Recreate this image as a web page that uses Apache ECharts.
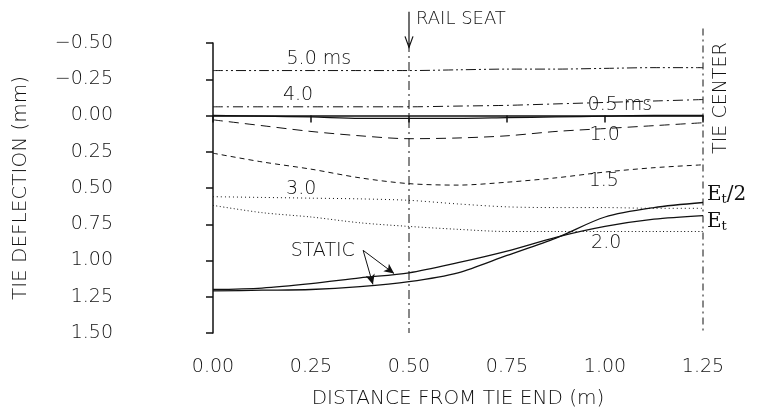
<!DOCTYPE html>
<html><head><meta charset="utf-8">
<script src="https://cdn.jsdelivr.net/npm/echarts@6/dist/echarts.min.js"></script>
<style>html,body{margin:0;padding:0;background:#fff}#c{width:762px;height:410px}</style>
</head><body><div id="c"></div>
<script>
// distance from tie end (m)
const xs = [0, 0.125, 0.25, 0.375, 0.5, 0.625, 0.75, 0.875, 1.0, 1.125, 1.25];
// tie deflection (mm), positive downward
const s50 = [-0.31, -0.31, -0.31, -0.31, -0.31, -0.315, -0.32, -0.32, -0.325, -0.33, -0.33];
const s40 = [-0.06, -0.06, -0.06, -0.06, -0.06, -0.065, -0.07, -0.08, -0.09, -0.10, -0.11];
const s05 = [0.0, 0.005, 0.01, 0.02, 0.02, 0.02, 0.015, 0.01, 0.005, 0.0, 0.0];
const s10 = [0.03, 0.07, 0.11, 0.14, 0.16, 0.155, 0.14, 0.11, 0.09, 0.07, 0.05];
const s15 = [0.26, 0.32, 0.37, 0.43, 0.47, 0.48, 0.46, 0.43, 0.39, 0.36, 0.34];
const s30 = [0.56, 0.565, 0.57, 0.575, 0.585, 0.61, 0.63, 0.635, 0.635, 0.64, 0.64];
const s20 = [0.62, 0.67, 0.70, 0.74, 0.765, 0.785, 0.80, 0.80, 0.80, 0.80, 0.80];
const staticEt = [1.20, 1.19, 1.16, 1.12, 1.085, 1.015, 0.935, 0.84, 0.765, 0.715, 0.69];
const staticEt2 = [1.21, 1.205, 1.20, 1.18, 1.146, 1.085, 0.965, 0.845, 0.70, 0.635, 0.60];
const yTickLabels = {'-0.5':'\u22120.50','-0.25':'\u22120.25','0':'0.00','0.25':'0.25','0.5':'0.50','0.75':'0.75','1':'1.00','1.25':'1.25','1.5':'1.50'};
const xTickLabels = {'0':'0.00','0.25':'0.25','0.5':'0.50','0.75':'0.75','1':'1.00','1.25':'1.25'};
const railSeatX = 0.5;
const tieCenterX = 1.25;

const FONT = 'DejaVu Sans';
const INK = '#111';
function pts(arr){ return xs.map((x,i)=>[x,arr[i]]); }
function line(name, arr, type, w){
  return {name, type:'line', data:pts(arr), symbol:'none', smooth:0.3,
    lineStyle:{color:INK, width:w||1, type:type}, silent:true, animation:false};
}
const chart = echarts.init(document.getElementById('c'));
chart.setOption({
  animation:false,
  grid:{left:213, right:59, top:43, bottom:77, containLabel:false, outerBoundsMode:'none'},
  xAxis:{type:'value', min:0, max:1.25, interval:0.25,
    axisLine:{lineStyle:{color:INK, width:1.5}},
    axisTick:{inside:false, length:7, lineStyle:{color:INK, width:1.5}},
    splitLine:{show:false},
    axisLabel:{formatter:v=>xTickLabels[String(v)]||'', color:INK, fontFamily:FONT, fontSize:19, fontWeight:200, margin:25},
    name:'DISTANCE FROM TIE END (m)', nameLocation:'middle', nameGap:56,
    nameTextStyle:{color:INK, fontFamily:FONT, fontSize:20, fontWeight:200}},
  yAxis:{type:'value', inverse:true, min:-0.5, max:1.5, interval:0.25, offset:78,
    axisLine:{show:true, lineStyle:{color:INK, width:1.5}},
    axisTick:{show:true, inside:false, length:7, lineStyle:{color:INK, width:1.5}},
    splitLine:{show:false},
    axisLabel:{formatter:v=>yTickLabels[String(v)]||'', color:INK, fontFamily:FONT, fontSize:19, fontWeight:200, margin:22},
    name:'TIE DEFLECTION (mm)', nameLocation:'middle', nameGap:104,
    nameTextStyle:{color:INK, fontFamily:FONT, fontSize:20, fontWeight:200}},
  series:[
    line('5.0 ms', s50, [10,3,2,3,2,3]),
    line('4.0', s40, [10,4,2,4]),
    line('0.5 ms', s05, 'solid', 1.3),
    line('1.0', s10, [10,6]),
    line('1.5', s15, [5,4]),
    line('3.0', s30, [1,3]),
    line('2.0', s20, [1,2.5]),
    Object.assign(line('E_t', staticEt, 'solid', 1.3), {
      markLine:{silent:true, symbol:['none','arrow'], symbolSize:[7,10], label:{show:false},
        lineStyle:{color:INK, width:1, type:'solid'},
        data:[
          [{coord:[0.383,0.93]},{coord:[0.462,1.09]}],
          [{coord:[0.383,0.93]},{coord:[0.408,1.165]}]
        ]}}),
    line('E_t/2', staticEt2, 'solid', 1.3),
    {name:'rail seat', type:'line', clip:false, symbol:'none', silent:true,
      data:[[railSeatX,-0.5],[railSeatX,1.5]], lineStyle:{color:INK, width:1, type:[9,4,2,4]}},
    {name:'tie center', type:'line', clip:false, symbol:'none', silent:true,
      data:[[tieCenterX,-0.6],[tieCenterX,1.5]], lineStyle:{color:INK, width:1, type:[7,4,2,4]}}
  ]
});

// annotation texts placed through the chart's own scales
const notes = [
  {t:'5.0 ms', at:[0.27,-0.39]},
  {t:'4.0', at:[0.217,-0.14]},
  {t:'3.0', at:[0.225,0.51]},
  {t:'0.5 ms', at:[1.038,-0.07]},
  {t:'1.0', at:[0.999,0.135]},
  {t:'1.5', at:[0.997,0.45]},
  {t:'2.0', at:[1.003,0.88]},
  {t:'STATIC', at:[0.28,0.935]}
];
const TF = '200 19px "DejaVu Sans"';
const g = notes.map(n=>{
  const p = chart.convertToPixel({gridIndex:0}, n.at);
  return {type:'text', x:p[0], y:p[1], silent:true,
    style:{text:n.t, fill:INK, font:TF, align:'center', verticalAlign:'middle'}};
});
// rail seat arrow
const a0 = chart.convertToPixel({gridIndex:0},[railSeatX,-0.715]);
const a1 = chart.convertToPixel({gridIndex:0},[railSeatX,-0.47]);
g.push({type:'line', silent:true, shape:{x1:a0[0], y1:a0[1], x2:a1[0], y2:a1[1]}, style:{stroke:INK, lineWidth:1.2}});
g.push({type:'polyline', silent:true, shape:{points:[[a1[0]-4,a1[1]-11],[a1[0],a1[1]],[a1[0]+4,a1[1]-11]]}, style:{stroke:INK, lineWidth:1.2, fill:null}});
const rs = chart.convertToPixel({gridIndex:0},[railSeatX,-0.66]);
g.push({type:'text', x:rs[0]+7, y:rs[1], silent:true,
  style:{text:'RAIL SEAT', fill:INK, font:'200 18px "DejaVu Sans"', align:'left', verticalAlign:'middle'}});
const tc = chart.convertToPixel({gridIndex:0},[tieCenterX,-0.12]);
g.push({type:'text', x:tc[0]+18, y:tc[1], rotation:Math.PI/2, silent:true,
  style:{text:'TIE CENTER', fill:INK, font:'200 19px "DejaVu Sans"', align:'center', verticalAlign:'middle'}});
const e2 = chart.convertToPixel({gridIndex:0},[tieCenterX,0.6]);
g.push({type:'text', x:e2[0]+4, y:e2[1]-8, silent:true,
  style:{rich:{a:{font:'20px "DejaVu Serif"', fill:INK}, s:{font:'13px "DejaVu Serif"', fill:INK, padding:[10,0,0,0]}},
    text:'{a|E}{s|t}{a|/2}', align:'left', verticalAlign:'middle'}});
const e1 = chart.convertToPixel({gridIndex:0},[tieCenterX,0.69]);
g.push({type:'text', x:e1[0]+4, y:e1[1]+6, silent:true,
  style:{rich:{a:{font:'20px "DejaVu Serif"', fill:INK}, s:{font:'13px "DejaVu Serif"', fill:INK, padding:[10,0,0,0]}},
    text:'{a|E}{s|t}', align:'left', verticalAlign:'middle'}});
chart.setOption({graphic:g});
</script></body></html>
